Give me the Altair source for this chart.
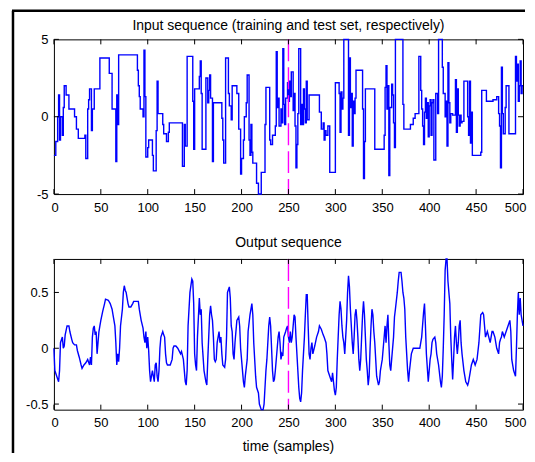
import altair as alt
import pandas as pd

# ---------------- data ----------------
input_t = [0, 2, 4, 5, 6, 7, 9, 10, 11, 13, 16, 22, 24, 26, 33, 34, 36, 37, 38, 40, 41, 43, 49, 59, 62, 66, 67, 68, 69,
           89, 90, 91, 92, 95, 96, 97, 98, 100, 101, 105, 106, 109, 110, 111, 116, 117, 120, 122, 123, 137, 139, 140,
           142, 148, 149, 150, 155, 156, 157, 158, 162, 164, 165, 166, 167, 169, 170, 179, 180, 181, 183, 186, 187,
           189, 190, 195, 197, 199, 200, 202, 203, 205, 206, 208, 209, 210, 211, 212, 216, 218, 221, 225, 226, 230,
           231, 233, 236, 237, 238, 239, 240, 242, 243, 244, 245, 246, 247, 249,
           250, 251, 252, 253, 255, 256, 257, 258, 259, 260, 261, 263, 264, 265, 266, 267, 268, 269, 270, 272, 283,
           285, 287, 288, 289, 290, 292, 294, 300, 304, 305, 306, 307, 308, 309, 314, 315, 316, 317, 318, 319, 320,
           321, 322, 329, 330, 331, 332, 342, 352, 353, 354, 355, 356, 357, 358, 360, 361, 362, 363, 364, 372, 373,
           380, 383, 385, 389, 391, 392, 393, 394, 395, 396, 397, 398, 399, 400, 401, 402, 403, 404, 405, 407, 409,
           410, 414, 415, 417, 418, 419, 420, 421, 422, 423, 425, 428, 429, 430, 431, 432, 433, 434, 435, 437, 441,
           442, 443, 444, 445, 446, 455, 456, 461, 468, 472, 474, 475, 476, 477, 478, 479, 481, 482, 485, 492, 493,
           494, 495, 496, 497, 498, 499, 500]
input_v = [-2.5, -1.6, 0.0, 1.4, -1.5, 0.0, -1.2, 0.6, 2.0, 1.4, 0.5, 0.0, -0.8, -1.4, -1.2, -2.7, 0.5, 1.1, 1.8, -0.9,
           0.5, 1.8, 3.8, 2.8, 0.5, -2.9, 1.4, -0.5, 4.0,
           3.0, 2.0, 1.3, 0.5, 0.0, 4.3, 1.3, -2.6, -2.0, -1.5, -2.5, -3.5, -0.9, 2.3, 0.2, -0.5, -1.1, -1.6, -1.0,
           -0.4, -3.2, -0.5, -1.9,
           3.9, 1.0, -2.1, 1.8, 2.6, 3.6, 1.5, -2.1, 2.5, 0.9, 1.7, 2.7, 1.2, -2.9, 0.9, -0.1, -1.5, -3.0, 3.8, 1.5,
           0.7, -0.2, 2.0, 1.5, -0.8, -3.7, -2.7, -1.5, 0.0, 0.9, 2.7, -1.5, -2.5, -0.5, -2.3, -3.0, -4.3, -5.0, -3.6,
           -0.5, 1.9, -1.5, -1.8, -1.2, -0.6, 4.2, 0.6, 1.2, -0.6, 0.5, -0.4, 4.4, 0.8, -0.5, 1.2, 2.2,
           1.0, 2.3, 1.3, 2.9, 0.4, 1.5, -0.6, -3.3, -1.8, 0.2, 4.4, -0.5, 0.8, -0.5, 1.8, 0.5, -0.4, 2.3, -0.2, 1.4,
           0.3, -0.8, -0.4, -1.5, -0.9, -1.2, -0.6, -3.6, 2.2, 1.5, -1.0, 1.6, 0.5, 1.2, 5.0, -1.2, 3.8, 0.6, 1.5,
           -1.9, 1.0, 0.2, 1.2, 3.0, 0.5, -4.0, -1.6, 1.8, -2.1, -1.2, 1.9, 3.3, 0.5, 2.0, -3.8, 0.6, 2.1, 1.4, -0.4,
           -2.0, 5.0, 0.8, -0.8, -0.5, -0.1, 0.2, 3.9, 1.7, 0.5, -0.6, -1.8, 0.3, 1.2, -0.1, 0.9, -1.3, 0.7, 1.1,
           -1.2, 0.9, 1.1, -2.8, 1.5, 0.2, 5.0, 3.2, 1.5, 0.0, 1.0, -1.9, 3.5, 0.9, -0.4, 0.2, 0.1, 2.4, -1.0, 1.8,
           0.1, -0.6, 0.1, -0.4, -0.3, 2.3, 0.0, -1.2, 2.3, -1.7, 0.3, -2.5, -2.3, 1.7, 1.0, 1.1, 1.3, 0.2, -0.6,
           -3.3, 3.2, 0.2, -1.1, 0.6, 2.0, -1.1, 3.9, 2.3, 3.4, 1.0, 2.0, 3.6, 1.5, 2.0, 2.0]

output_t = [0, 1, 3, 5, 6, 7, 9, 10, 11, 12, 14, 16, 17, 19, 20, 22, 24, 25, 27, 29, 30, 32, 34, 36, 38, 39, 40, 41,
            42, 43, 44, 45, 46, 47, 48, 49, 50, 52, 54, 55, 58, 60, 62, 63, 65, 66, 67, 68, 69, 70, 71, 73, 74, 75,
            76, 77, 78, 79, 80, 82, 84, 85, 90, 91, 93, 95, 96, 97, 98, 99, 100, 101, 102, 103, 104, 105, 106, 107,
            108, 109, 110, 111, 112, 113, 114, 116, 117, 118, 119, 120, 121, 124, 126, 127, 128, 130, 132, 135, 136,
            138, 139, 140, 141, 142, 143, 145, 147, 148, 149, 150, 151, 152, 153, 155, 156, 157, 158, 160, 162, 163,
            164, 166, 167, 168, 169, 170, 171, 172, 173, 174, 176, 177, 178, 179, 180, 182, 183, 184, 185, 187, 188,
            189, 190, 191, 192, 193, 195, 197, 198, 199, 201, 202, 203, 204, 206, 207, 209, 211, 212, 213, 215, 216,
            218, 219, 221, 223, 224, 225, 226, 227, 228, 229, 230, 231, 232, 233, 234, 235, 236, 238, 239, 240, 241,
            242, 243, 244, 245, 247, 248, 249, 250, 251, 252, 253, 254, 255, 256, 257, 258, 260, 261, 262, 263, 264,
            265, 267, 268, 269, 270, 271, 272, 273, 274, 275, 276, 278, 280, 282, 283, 285, 287, 288, 290, 291, 292,
            294, 296, 297, 298, 299, 300, 301, 302, 303, 304, 305, 306, 307, 308, 309, 310, 311, 312, 313, 314, 315,
            316, 318, 319, 320, 321, 322, 323, 324, 325, 326, 327, 328, 329, 330, 331, 332, 333, 334, 335, 336, 337,
            338, 339, 340, 341, 342, 343, 344, 346, 347, 348, 349, 350, 352, 353, 354, 355, 356, 357, 358, 359, 360,
            362, 363, 364, 366, 367, 368, 370, 371, 372, 373, 374, 375, 376, 377, 378, 379, 381, 383, 390, 391, 392,
            394, 395, 396, 397, 399, 400, 401, 402, 403, 404, 406, 407, 408, 410, 412, 413, 414, 415, 416, 417, 418,
            419, 420, 422, 423, 424, 425, 426, 427, 428, 429, 430, 431, 432, 433, 434, 435, 437, 439, 441, 442, 444,
            445, 447, 449, 451, 453, 455, 457, 458, 460, 462, 465, 467, 468, 470, 472, 474, 475, 476, 477, 478, 480,
            482, 484, 486, 487, 488, 490, 492, 493, 494, 495, 496, 497, 498, 500]
output_v = [0.0, -0.2, -0.25, -0.3, -0.2, 0.05, 0.1, 0.0, 0.02, 0.12, 0.2, 0.2, 0.15, 0.08, 0.05, 0.03, 0.03, -0.02,
            -0.08, -0.15, -0.18, -0.15, -0.13, -0.1, -0.15, -0.08, -0.15, 0.1, 0.18, 0.2, 0.12, 0.15, -0.05, 0.05,
            0.15, 0.2, 0.25, 0.33, 0.4, 0.44, 0.43, 0.4, 0.35, 0.3, 0.2, 0.05, -0.15, -0.05, -0.12, 0.0, 0.2, 0.35,
            0.5, 0.56, 0.52, 0.5, 0.45, 0.4, 0.37, 0.37, 0.4, 0.42, 0.42, 0.35, 0.25, 0.18, 0.1, 0.05, 0.15, 0.0, 0.1,
            -0.02, -0.2, -0.3, -0.25, -0.2, -0.25, -0.3, -0.15, -0.13, -0.25, -0.3, -0.2, 0.0, 0.1, 0.15, 0.12, 0.1,
            -0.05, -0.13, -0.15, -0.15, -0.1, 0.0, 0.02, 0.02, 0.0, -0.05, -0.03, -0.1, -0.2, -0.3, -0.33, -0.2, 0.2,
            0.5, 0.62, 0.6, 0.4, -0.05, -0.15, -0.2, 0.1, 0.45, 0.3, 0.35, 0.05, -0.2, -0.3, -0.33, -0.1, 0.3, 0.38,
            0.3, 0.25, 0.1, -0.1, -0.12, -0.1, 0.05, 0.15, 0.05, 0.1, -0.05, -0.15, -0.17, -0.1, 0.1, 0.5, 0.55, 0.45,
            0.2, 0.15, -0.05, -0.1, 0.05, 0.25, 0.28, 0.2, 0.0, -0.2, -0.3, -0.35, -0.25, -0.1, 0.15, 0.3, 0.4, 0.3,
            0.05, -0.25, -0.35, -0.4, -0.5, -0.55, -0.55, -0.5, -0.35, -0.2, -0.1, 0.05, 0.2, 0.28, 0.2, 0.0, -0.2,
            -0.3, -0.28, -0.2, 0.0, 0.1, 0.15, 0.05, -0.1, -0.05, -0.07, 0.1, 0.15, 0.18, 0.2, 0.1, 0.05, 0.15, 0.05,
            0.1, 0.2, 0.3, 0.28, 0.1, -0.2, -0.35, -0.45, -0.48, -0.4, -0.2, 0.1, 0.3, 0.48, 0.48, 0.2, -0.05, -0.1,
            0.0, 0.05, -0.05, 0.02, 0.1, 0.15, 0.2, 0.17, 0.12, 0.1, 0.05, -0.05, -0.2, -0.25, -0.3, -0.22, -0.3,
            -0.38, -0.42, -0.35, -0.1, 0.1, 0.3, 0.42, 0.35, 0.2, 0.1, 0.05, -0.05, 0.1, 0.25, 0.5, 0.65, 0.55, 0.35,
            0.05, -0.05, 0.1, 0.3, 0.35, 0.25, 0.1, -0.1, -0.2, -0.1, 0.1, 0.3, 0.42, 0.3, 0.1, -0.1, -0.2, -0.33,
            -0.25, 0.0, 0.2, 0.35, 0.3, 0.15, 0.05, -0.1, -0.25, -0.33, -0.3, -0.2, -0.15, -0.1, 0.1, 0.2, 0.05, 0.2,
            0.3, 0.05, -0.15, -0.2, -0.1, 0.1, 0.28, 0.35, 0.5, 0.6, 0.68, 0.68, 0.6, 0.5, 0.45, 0.35, 0.1, -0.05,
            -0.2, -0.3, -0.2, -0.05, 0.0, 0.0, 0.05, 0.1, 0.32, 0.4, 0.2, -0.05, -0.3, -0.2, -0.1, -0.05, 0.05, 0.08,
            0.1, 0.05, -0.05, -0.15, -0.3, -0.35, -0.25, 0.0, 0.3, 0.7, 0.8, 0.8, 0.6, 0.4, 0.1, -0.1, -0.28, -0.1,
            0.1, 0.2, 0.05, -0.05, 0.05, 0.2, 0.25, 0.05, -0.05, -0.2, -0.3, -0.33, -0.3, -0.2, -0.15, -0.1, -0.15,
            -0.1, 0.05, 0.3, 0.32, 0.3, 0.1, 0.15, 0.05, 0.15, 0.15, 0.1, 0.0, -0.05, 0.05, 0.08, 0.1, 0.15, 0.1,
            0.15, 0.2, 0.25, 0.15, -0.1, -0.2, -0.25, 0.0, 0.3, 0.5, 0.3, 0.45, 0.3, 0.2]

x_ticks = [0, 50, 100, 150, 200, 250, 300, 350, 400, 450, 500]
input_y_ticks = [-5, 0, 5]
output_y_ticks = [-0.5, 0, 0.5]
split_at = [250]
input_title = ["Input sequence (training and test set, respectively)"]
output_title = ["Output sequence"]
x_label = ["time (samples)"]

# ---------------- styling ----------------
W = 470
H1 = 155
H2 = 151
GAP = 65
TICK = 5
FONT = "Liberation Sans"
BLUE = "#0000ff"
MAGENTA = "#ff00ff"
FRAME_X = -41
FRAME_TOP = -28.75
FRAME_BOTTOM = 414.5
FRAME_RIGHT = 472


def panel(t, v, interp, ydom, yticks, h, title, title_y, xlabel_y=None, frame=False):
    xs = alt.Scale(domain=[0, 500], nice=False, zero=False)
    ys = alt.Scale(domain=ydom, nice=False, zero=False)
    xa = alt.Axis(values=x_ticks, title="", labelFlush=True, labelFlushOffset=3)
    ya = alt.Axis(values=yticks, title="", labelExpr="'' + datum.value")
    df = pd.DataFrame({"t": t, "v": v})
    line = alt.Chart(df).mark_line(color=BLUE, strokeWidth=1.4, interpolate=interp).encode(
        x=alt.X("t:Q", scale=xs, axis=xa),
        y=alt.Y("v:Q", scale=ys, axis=ya),
    )
    split = alt.Chart(pd.DataFrame({"t": split_at})).mark_rule(
        color=MAGENTA, strokeWidth=1.4, strokeDash=[22, 6]
    ).encode(x=alt.X("t:Q", scale=xs, axis=xa))
    xt = pd.DataFrame({"t": x_ticks})
    yt = pd.DataFrame({"v": yticks})
    tick_style = dict(color="black", strokeWidth=1)
    xt_bot = alt.Chart(xt).mark_rule(**tick_style).encode(
        x=alt.X("t:Q", scale=xs, axis=xa), y=alt.value(h - TICK), y2=alt.value(h))
    xt_top = alt.Chart(xt).mark_rule(**tick_style).encode(
        x=alt.X("t:Q", scale=xs, axis=xa), y=alt.value(0), y2=alt.value(TICK))
    yt_left = alt.Chart(yt).mark_rule(**tick_style).encode(
        y=alt.Y("v:Q", scale=ys, axis=ya), x=alt.value(0), x2=alt.value(TICK))
    yt_right = alt.Chart(yt).mark_rule(**tick_style).encode(
        y=alt.Y("v:Q", scale=ys, axis=ya), x=alt.value(W - TICK), x2=alt.value(W))
    ttl = alt.Chart(pd.DataFrame({"label": title})).mark_text(
        font=FONT, fontSize=14, color="black", align="center", baseline="middle"
    ).encode(x=alt.value(W / 2), y=alt.value(title_y), text="label:N")
    layers = [line, split, xt_bot, xt_top, yt_left, yt_right, ttl]
    if xlabel_y is not None:
        xl = alt.Chart(pd.DataFrame({"label": x_label})).mark_text(
            font=FONT, fontSize=14, color="black", align="center", baseline="middle"
        ).encode(x=alt.value(W / 2), y=alt.value(xlabel_y), text="label:N")
        layers.append(xl)
    if frame:
        fr = pd.DataFrame({"k": [0]})
        left = alt.Chart(fr).mark_rule(color="black", strokeWidth=2.5).encode(
            x=alt.value(FRAME_X), y=alt.value(FRAME_TOP), y2=alt.value(FRAME_BOTTOM))
        top = alt.Chart(fr).mark_rule(color="black", strokeWidth=2.5).encode(
            x=alt.value(FRAME_X - 1), x2=alt.value(FRAME_RIGHT), y=alt.value(FRAME_TOP))
        layers += [left, top]
    return alt.layer(*layers).properties(width=W, height=h)


top_panel = panel(input_t, input_v, "step-after", [-5, 5], input_y_ticks, H1, input_title, -13.5, frame=True)
bottom_panel = panel(output_t, output_v, "linear", [-0.55, 0.8], output_y_ticks, H2, output_title, -15.5,
                     xlabel_y=H2 + 37)

chart = alt.vconcat(top_panel, bottom_panel, spacing=GAP, bounds="flush").properties(
    padding={"left": 2, "top": 0, "right": 0, "bottom": 0},
    background="white",
).configure_view(
    stroke="black", strokeWidth=1
).configure_axis(
    domain=False, ticks=False, tickSize=0, grid=False,
    labelFont=FONT, labelFontSize=13, labelColor="black",
).configure_axisX(labelPadding=7).configure_axisY(labelPadding=6)

chart.save("out.html", embed_options={"renderer": "svg", "actions": False})
